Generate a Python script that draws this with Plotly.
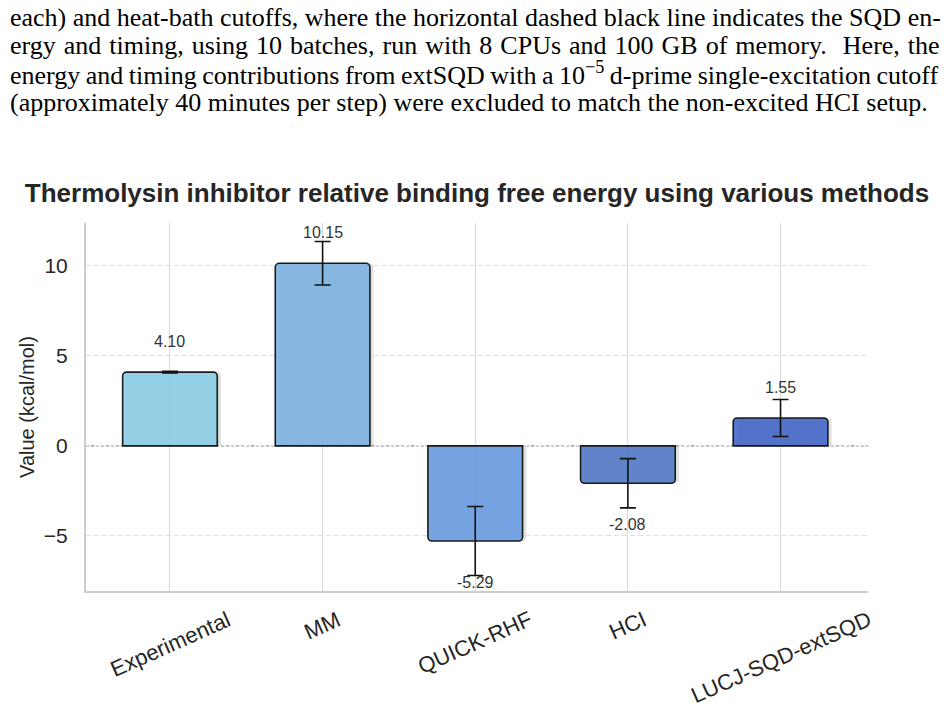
import plotly.graph_objects as go

# ---------------- data ----------------
categories = ["Experimental", "MM", "QUICK-RHF", "HCI", "LUCJ-SQD-extSQD"]
values = [4.10, 10.15, -5.29, -2.08, 1.55]
errors = [0.05, 1.21, 1.92, 1.37, 1.03]
value_labels = ["4.10", "10.15", "-5.29", "-2.08", "1.55"]
y_ticks = [-5, 0, 5, 10]
bar_colors = ["#96d1e7", "#88bae3", "#78a6e4", "#6486cc", "#5576cc"]

title_text = "Thermolysin inhibitor relative binding free energy using various methods"
y_title = "Value (kcal/mol)"
paragraph_lines = [
    "each) and heat-bath cutoffs, where the horizontal dashed black line indicates the SQD en-",
    "ergy and timing, using 10 batches, run with 8 CPUs and 100 GB of memory.  Here, the",
    "energy and timing contributions from extSQD with a 10<sup>\u22125</sup> d-prime single-excitation cutoff",
    "(approximately 40 minutes per step) were excluded to match the non-excited HCI setup.",
]

# ---------------- layout constants ----------------
W, H = 949, 722
ML, MR, MT, MB = 86, 81, 223, 131
PLOT_W = W - ML - MR
PLOT_H = H - MT - MB
BAR_W = 0.62
SANS = "Liberation Sans, Arial, sans-serif"


def px_to_paper_x(px):
    return (px - ML) / PLOT_W


def px_to_paper_y(py):
    return (H - MB - py) / PLOT_H


def with_alpha(hex_color, a=0.9):
    h = hex_color.lstrip("#")
    r, g, b = (int(h[i:i + 2], 16) for i in (0, 2, 4))
    f = lambda c: max(0, min(255, round((c - (1 - a) * 255) / a)))
    return f"rgba({f(r)},{f(g)},{f(b)},{a})"


fig = go.Figure()

# soft shadow
fig.add_trace(go.Bar(
    x=categories, y=values, width=BAR_W, offset=-BAR_W / 2 + 0.024,
    marker=dict(color="rgba(0,0,0,0.12)", line=dict(width=0), cornerradius=4),
    hoverinfo="skip", showlegend=False,
))

# main bars
fig.add_trace(go.Bar(
    x=categories, y=values, width=BAR_W,
    marker=dict(color=[with_alpha(c) for c in bar_colors],
                line=dict(color="#1a1a1a", width=1.6), cornerradius=4),
    error_y=dict(type="data", array=errors, visible=True,
                 color="#111111", thickness=1.6, width=8),
    showlegend=False,
))

annotations = []
# value labels
for c, v, t in zip(categories, values, value_labels):
    annotations.append(dict(
        x=c, y=(v + 1.7) if v >= 0 else (v - 2.3), xref="x", yref="y",
        text=t, showarrow=False, xanchor="center", yanchor="middle",
        font=dict(family=SANS, size=16, color="#333333"),
    ))

# rotated category labels
for c in categories:
    annotations.append(dict(
        x=c, y=0, xref="x", yref="paper", yshift=-13,
        text=c, showarrow=False, textangle=-24,
        xanchor="center", yanchor="top",
        font=dict(family=SANS, size=22, color="#262626"),
    ))

# paragraph text above chart
line_centers = [17, 45.5, 74, 102.5]
word_spacing = [0, 1.5, -1.0, 0]
for line, yc, ws in zip(paragraph_lines, line_centers, word_spacing):
    txt = line if ws == 0 else f'<span style="word-spacing:{ws}px">{line}</span>'
    annotations.append(dict(
        x=px_to_paper_x(8), y=px_to_paper_y(yc), xref="paper", yref="paper",
        text=txt, showarrow=False, xanchor="left", yanchor="middle",
        font=dict(family="Liberation Serif, Times New Roman, serif", size=26, color="#000000"),
    ))

fig.update_layout(
    width=W, height=H,
    margin=dict(l=ML, r=MR, t=MT, b=MB),
    paper_bgcolor="white", plot_bgcolor="white",
    barmode="overlay",
    title=dict(text="<b>" + title_text + "</b>", x=0.5, xref="paper",
               y=1 - 193 / H, yref="container", yanchor="middle", xanchor="center",
               font=dict(family=SANS, size=26, color="#262626")),
    xaxis=dict(type="category", range=[-0.55, 4.573],
               showgrid=True, gridcolor="#d9d9d9", gridwidth=1,
               showline=True, linecolor="#cccccc", linewidth=2,
               showticklabels=False, ticks="", zeroline=False),
    yaxis=dict(range=[-8.07, 12.39], tickvals=y_ticks,
               showgrid=True, gridcolor="#e0e0e0", gridwidth=1, griddash="5px,3px",
               showline=True, linecolor="#cccccc", linewidth=2,
               ticks="outside", ticklen=12, tickcolor="rgba(0,0,0,0)",
               zeroline=False,
               tickfont=dict(family=SANS, size=21, color="#262626"),
               title=dict(text=y_title, standoff=4,
                          font=dict(family=SANS, size=20, color="#262626"))),
    shapes=[dict(type="line", xref="paper", x0=0, x1=1, yref="y", y0=0, y1=0,
                 line=dict(color="#8c8c8c", width=1.3, dash="3px,2px"), layer="below")],
    annotations=annotations,
)

fig.write_html("out.html")
